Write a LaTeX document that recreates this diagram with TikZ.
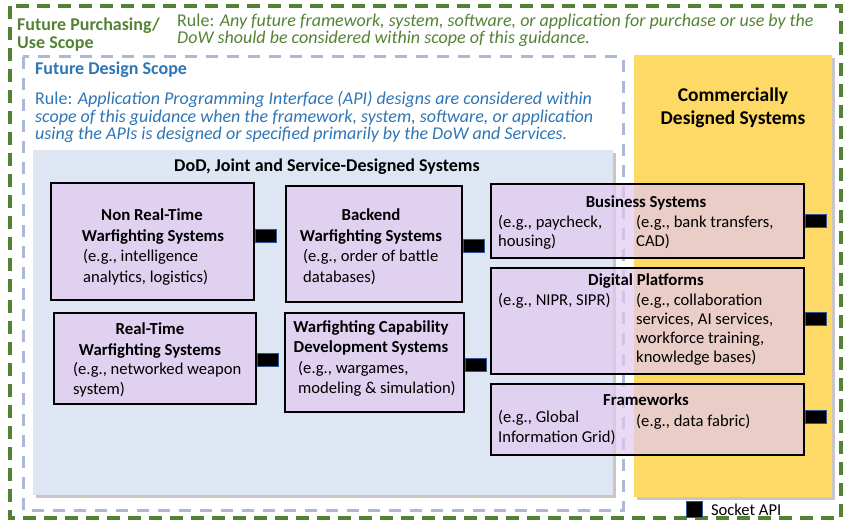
\documentclass[tikz,border=0pt]{standalone}
\usepackage{fontspec}
\setmainfont{Carlito}
\usetikzlibrary{positioning}
\definecolor{scopegreen}{RGB}{84,130,53}
\definecolor{designblue}{RGB}{46,117,182}
\definecolor{dashblue}{RGB}{171,184,214}
\definecolor{dodfill}{RGB}{222,230,243}
\definecolor{commyellow}{RGB}{255,217,102}
\definecolor{sysfill}{RGB}{225,201,239}
\definecolor{socketedge}{RGB}{47,85,151}

\tikzset{
  sysbox/.style={draw=black, line width=2.2pt, fill=sysfill, fill opacity=0.7,
    inner sep=0, anchor=north west},
  socket/.style={draw=socketedge, fill=black, line width=0.8pt, inner sep=0,
    minimum width=21pt, minimum height=13pt, anchor=west},
  boxtitle/.style={inner sep=0, anchor=mid, yshift=-4pt, font=\fontsize{16.8}{20}\bfseries},
  boxtext/.style={inner sep=0, anchor=mid west, yshift=-4pt, font=\fontsize{16.6}{20}\selectfont},
  ruletext/.style={inner sep=0, anchor=mid west, yshift=-4pt, font=\fontsize{18}{18}\selectfont},
}

\begin{document}
\begin{tikzpicture}[x=1pt,y=-1pt]
\useasboundingbox (0,0) rectangle (849,524);

% Scopes
\draw[scopegreen, line width=3.5pt, dash pattern=on 13pt off 8pt] (10,6) rectangle (841,518);
\draw[dashblue, line width=3pt, dash pattern=on 12pt off 9pt] (23,57) rectangle (623,510);

\node[ruletext, font=\fontsize{18}{18}\bfseries, text=scopegreen] (purch) at (17,24) {Future Purchasing/};
\node[ruletext, font=\fontsize{18}{18}\bfseries, text=scopegreen] (purch2) at (17,42) {Use Scope};
\node[ruletext, text=scopegreen] (rule1a) at (177,20) {Rule: \textit{Any future framework, system, software, or application for purchase or use by the}};
\node[ruletext, text=scopegreen] (rule1b) at (177,37) {\textit{DoW should be considered within scope of this guidance.}};

\node[ruletext, font=\fontsize{18}{18}\bfseries, text=designblue] (design) at (35,68) {Future Design Scope};
\node[ruletext, text=designblue] (rule2a) at (35,98) {Rule: \textit{Application Programming Interface (API) designs are considered within}};
\node[ruletext, text=designblue] (rule2b) at (35,116) {\textit{scope of this guidance when the framework, system, software, or application}};
\node[ruletext, text=designblue] (rule2c) at (35,133) {\textit{using the APIs is designed or specified primarily by the DoW and Services.}};

% Backgrounds
\fill[black!22] (36,153) rectangle (616,498);
\fill[dodfill] (33,150) rectangle (613,495);
\fill[black!22] (637,58) rectangle (835,500);
\fill[commyellow] (634,55) rectangle (832,497);

\node[boxtitle, font=\fontsize{19.5}{23}\bfseries] (comm) at (733,95) {Commercially};
\node[boxtitle, font=\fontsize{19.5}{23}\bfseries] (comm2) at (733,118) {Designed Systems};
\node[boxtitle, font=\fontsize{18}{18}\bfseries] (dod) at (327,165) {DoD, Joint and Service-Designed Systems};

% Systems
\node[sysbox, minimum width=203pt, minimum height=117pt] (nrt) at (50,182) {};
\node[sysbox, minimum width=176pt, minimum height=116pt] (back) at (285,185) {};
\node[sysbox, minimum width=202pt, minimum height=91pt] (rt) at (53,312) {};
\node[sysbox, minimum width=179pt, minimum height=99pt] (wcd) at (284,312) {};
\node[sysbox, minimum width=313pt, minimum height=74pt] (bus) at (490,183) {};
\node[sysbox, minimum width=313pt, minimum height=106pt] (dig) at (490,267) {};
\node[sysbox, minimum width=313pt, minimum height=71pt] (frame) at (490,383) {};

% Socket APIs
\foreach \b/\dy in {nrt/6,back/-1.5,rt/-1,wcd/-2.5,bus/0,dig/2,frame/3}
  \node[socket, yshift=\dy pt] (\b-api) at (\b.east) {};

\node[boxtitle] at (152,214) {Non Real-Time};
\node[boxtitle] at (153,235) {Warfighting Systems};
\node[boxtext] at (83,255) {(e.g., intelligence};
\node[boxtext] at (83,276) {analytics, logistics)};

\node[boxtitle] at (371,214) {Backend};
\node[boxtitle] at (371,235) {Warfighting Systems};
\node[boxtext] at (303,255) {(e.g., order of battle};
\node[boxtext] at (303,276) {databases)};

\node[boxtitle] at (150,328) {Real-Time};
\node[boxtitle] at (150,349) {Warfighting Systems};
\node[boxtext] at (73,368) {(e.g., networked weapon};
\node[boxtext] at (73,388) {system)};

\node[boxtitle] at (371,326) {Warfighting Capability};
\node[boxtitle] at (371,346) {Development Systems};
\node[boxtext] at (298,367) {(e.g., wargames,};
\node[boxtext] at (298,387) {modeling \& simulation)};

\node[boxtitle] at (646,201) {Business Systems};
\node[boxtext] at (498,221) {(e.g., paycheck,};
\node[boxtext] at (498,240) {housing)};
\node[boxtext] at (636,221) {(e.g., bank transfers,};
\node[boxtext] at (636,240) {CAD)};

\node[boxtitle] at (646,279) {Digital Platforms};
\node[boxtext] at (498,299) {(e.g., NIPR, SIPR)};
\node[boxtext] at (636,299) {(e.g., collaboration};
\node[boxtext] at (636,318) {services, AI services,};
\node[boxtext] at (636,337) {workforce training,};
\node[boxtext] at (636,356) {knowledge bases)};

\node[boxtitle] at (646,399) {Frameworks};
\node[boxtext] at (498,416) {(e.g., Global};
\node[boxtext] at (498,436) {Information Grid)};
\node[boxtext] at (636,420) {(e.g., data fabric)};

% Legend
\node[socket, minimum width=16pt, minimum height=16pt, anchor=north west] (legend) at (686,501) {};
\node[boxtext, yshift=4pt, right=8pt of legend] (legendtext) {Socket API};
\end{tikzpicture}
\end{document}
